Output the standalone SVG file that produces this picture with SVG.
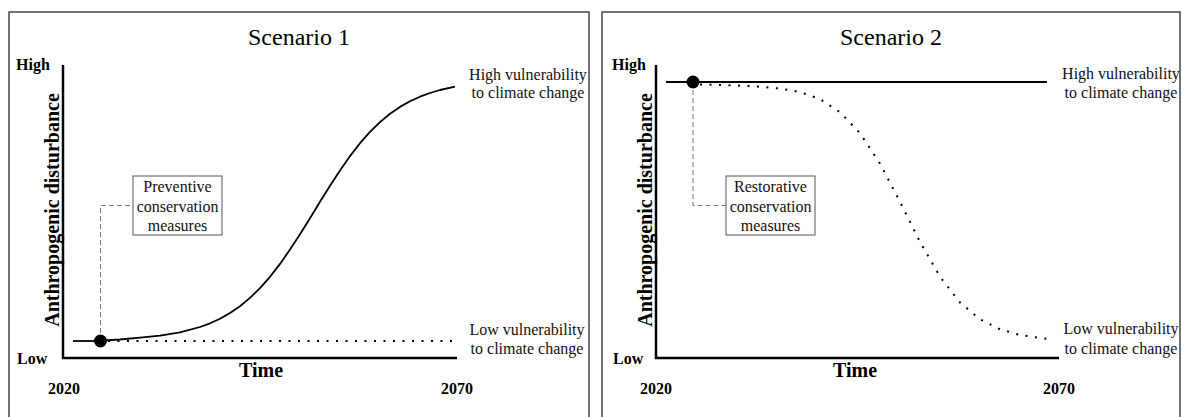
<svg xmlns="http://www.w3.org/2000/svg" width="1182" height="417" viewBox="0 0 1182 417">
<style>
.panel{fill:#fff;stroke:#444;stroke-width:1.5}
.axis{fill:none;stroke:#000;stroke-width:2.5}
.solid{fill:none;stroke:#000;stroke-width:1.8;stroke-linejoin:round}
.dotted{fill:none;stroke:#000;stroke-width:2;stroke-dasharray:2 7.5}
.dash{fill:none;stroke:#777;stroke-width:1;stroke-dasharray:5 3}
.box{fill:#fff;stroke:#555;stroke-width:1}
.title{font-family:"Liberation Serif",serif;font-size:24px;text-anchor:middle;fill:#000}
.lab{font-family:"Liberation Serif",serif;font-size:16px;text-anchor:middle;fill:#111}
.bold{font-family:"Liberation Serif",serif;font-weight:bold;font-size:16px;fill:#000}
.axt{font-family:"Liberation Serif",serif;font-weight:bold;font-size:20px;text-anchor:middle;fill:#000}
</style>
<rect width="1182" height="417" fill="#fff"/>
<g id="panel1">
<rect class="panel" x="9" y="12" width="580" height="407"/>
<text class="title" x="299" y="45">Scenario 1</text>
<path class="axis" d="M63,65 V358 H457"/>
<text class="bold" x="16" y="70">High</text>
<text class="bold" x="17" y="364">Low</text>
<text class="bold" x="48" y="394">2020</text>
<text class="bold" x="441" y="394">2070</text>
<text class="axt" x="261" y="377" font-size="19">Time</text>
<text class="axt" transform="translate(59,210) rotate(-90)">Anthropogenic disturbance</text>
<text class="lab" x="528" y="80">High vulnerability</text>
<text class="lab" x="528" y="98">to climate change</text>
<text class="lab" x="527" y="335">Low vulnerability</text>
<text class="lab" x="527" y="354">to climate change</text>
</g>
<g id="panel2">
<rect class="panel" x="602" y="12" width="578" height="407"/>
<text class="title" x="891" y="45">Scenario 2</text>
<path class="axis" d="M656,65 V358 H1059"/>
<text class="bold" x="612" y="70">High</text>
<text class="bold" x="613" y="364">Low</text>
<text class="bold" x="640" y="394">2020</text>
<text class="bold" x="1043" y="394">2070</text>
<text class="axt" x="855" y="377" font-size="19">Time</text>
<text class="axt" transform="translate(652,210) rotate(-90)">Anthropogenic disturbance</text>
<text class="lab" x="1121" y="79">High vulnerability</text>
<text class="lab" x="1121" y="98">to climate change</text>
<text class="lab" x="1121" y="334">Low vulnerability</text>
<text class="lab" x="1121" y="354">to climate change</text>
</g>
<g id="connectors">
<path class="dash" d="M100.5,341 V205.5 H133"/>
<path class="dash" d="M693,82 V205.5 H726"/>
<line class="solid" x1="73" y1="341" x2="100" y2="341"/>
<line class="dotted" x1="108" y1="341" x2="455" y2="341"/>
<polyline class="solid" points="100,340.6 120,339.5 140,337.7 160,335.7 180,332.3 200,327 210,323.3 220,318.7 230,313 240,306.2 250,297.9 260,288.1 270,276.8 280,263.9 290,249.6 300,234.3 310,218.2 320,201.8 330,185.7 340,170.4 350,156.1 360,143.2 370,131.9 380,122.1 390,113.8 400,106.9 410,101.3 420,96.7 430,93 440,90 455,86.7"/>
<line class="solid" x1="666" y1="82" x2="1047" y2="82"/>
<polyline class="dotted" points="700,84.5 720,85 750,86 780,88.5 800,92 820,99.1 840,112.2 860,133.2 880,163.6 900,201.9 920,241.9 940,276.7 960,302.5 980,319.2 1000,329.3 1020,335 1047,338.9"/>
</g>
<g id="dot1"><circle cx="100.5" cy="341" r="6.5" fill="#000"/></g>
<g id="dot2"><circle cx="693" cy="82" r="6.5" fill="#000"/></g>
<g id="box1">
<rect class="box" x="133" y="176" width="89" height="59"/>
<text class="lab" x="177.5" y="192">Preventive</text>
<text class="lab" x="177.5" y="212">conservation</text>
<text class="lab" x="177.5" y="231">measures</text>
</g>
<g id="box2">
<rect class="box" x="726" y="176" width="89" height="59"/>
<text class="lab" x="770.5" y="192">Restorative</text>
<text class="lab" x="770.5" y="212">conservation</text>
<text class="lab" x="770.5" y="231">measures</text>
</g>
</svg>
